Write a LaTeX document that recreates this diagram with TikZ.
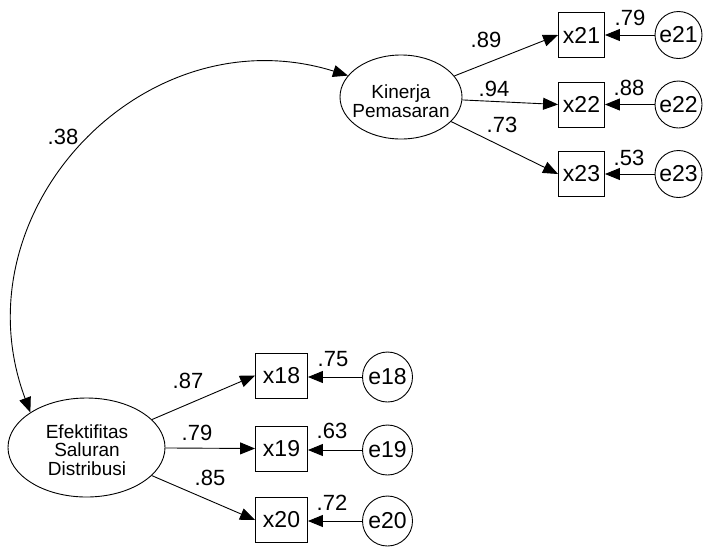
\documentclass[tikz,border=0pt]{standalone}
\usepackage{fontspec}
\setmainfont{Liberation Sans}
\usetikzlibrary{arrows.meta,shapes.geometric}
\begin{document}
\begin{tikzpicture}[x=1pt,y=-1pt,
  lat/.style={draw,ellipse,inner sep=0pt,line width=0.9pt},
  obs/.style={draw,rectangle,inner sep=0pt,minimum height=45pt,line width=0.9pt,font=\fontsize{23}{26}\selectfont},
  err/.style={draw,circle,inner sep=0pt,line width=0.9pt,font=\fontsize{23}{26}\selectfont},
  val/.style={inner sep=0pt,font=\fontsize{22}{26}\selectfont},
  ltext/.style={inner sep=0pt,align=center,font=\fontsize{19}{18.5}\selectfont},
  arr/.style={-{Triangle[length=15pt,width=12pt]},line width=0.9pt},
  darr/.style={{Triangle[length=15pt,width=12pt]}-{Triangle[length=15pt,width=12pt]},line width=0.9pt},
]
\useasboundingbox (0,0) rectangle (703,547);

% latent variables
\node[lat,minimum width=122pt,minimum height=84pt] (kin) at (401,97) {};
\node[ltext] (kint) at (401,101) {Kinerja\\Pemasaran};
\node[lat,minimum width=157pt,minimum height=99pt] (eff) at (86.5,447.5) {};
\node[ltext] (efft) at (87,450) {Efektifitas\\Saluran\\Distribusi};

% indicators (top)
\node[obs,minimum width=46pt] (x21) at (581.5,35) {x21};
\node[obs,minimum width=46pt] (x22) at (581.5,104.5) {x22};
\node[obs,minimum width=46pt] (x23) at (581.5,174) {x23};
\node[err,minimum size=47pt] (e21) at (678.5,35) {e21};
\node[err,minimum size=47pt] (e22) at (678.5,104.5) {e22};
\node[err,minimum size=47pt] (e23) at (678.5,174) {e23};

% indicators (bottom)
\node[obs,minimum width=52pt] (x18) at (281.5,375.5) {x18};
\node[obs,minimum width=52pt] (x19) at (281.5,448.5) {x19};
\node[obs,minimum width=52pt] (x20) at (281.5,520) {x20};
\node[err,minimum size=50pt] (e18) at (387.5,377) {e18};
\node[err,minimum size=50pt] (e19) at (387.5,450) {e19};
\node[err,minimum size=50pt] (e20) at (387.5,521) {e20};

% loadings
\draw[arr] (kin) -- (x21.west);
\draw[arr] (kin) -- (x22.west);
\draw[arr] (kin) -- (x23.west);
\draw[arr] (eff) -- (x18.west);
\draw[arr] (eff) -- (x19.west);
\draw[arr] (eff) -- (x20.west);

% errors
\draw[arr] (e21) -- (x21);
\draw[arr] (e22) -- (x22);
\draw[arr] (e23) -- (x23);
\draw[arr] (e18.west) -- (x18.east |- e18.west);
\draw[arr] (e19.west) -- (x19.east |- e19.west);
\draw[arr] (e20.west) -- (x20.east |- e20.west);

% covariance
\draw[darr] (eff.148) to[out=110.5,in=162.7,looseness=1.18] (kin.158);

% values
\node[val] (v38) at (63,137) {.38};
\node[val] (v89) at (486,39.5) {.89};
\node[val] (v94) at (494,89) {.94};
\node[val] (v73) at (502,124.5) {.73};
\node[val] (v79) at (630,17.5) {.79};
\node[val] (v88) at (629,87.5) {.88};
\node[val] (v53) at (629,157.5) {.53};
\node[val] (v87) at (188,381) {.87};
\node[val] (v79b) at (197,433) {.79};
\node[val] (v85) at (210,478) {.85};
\node[val] (v75) at (333,359) {.75};
\node[val] (v63) at (332,431) {.63};
\node[val] (v72) at (332,503) {.72};
\end{tikzpicture}
\end{document}
